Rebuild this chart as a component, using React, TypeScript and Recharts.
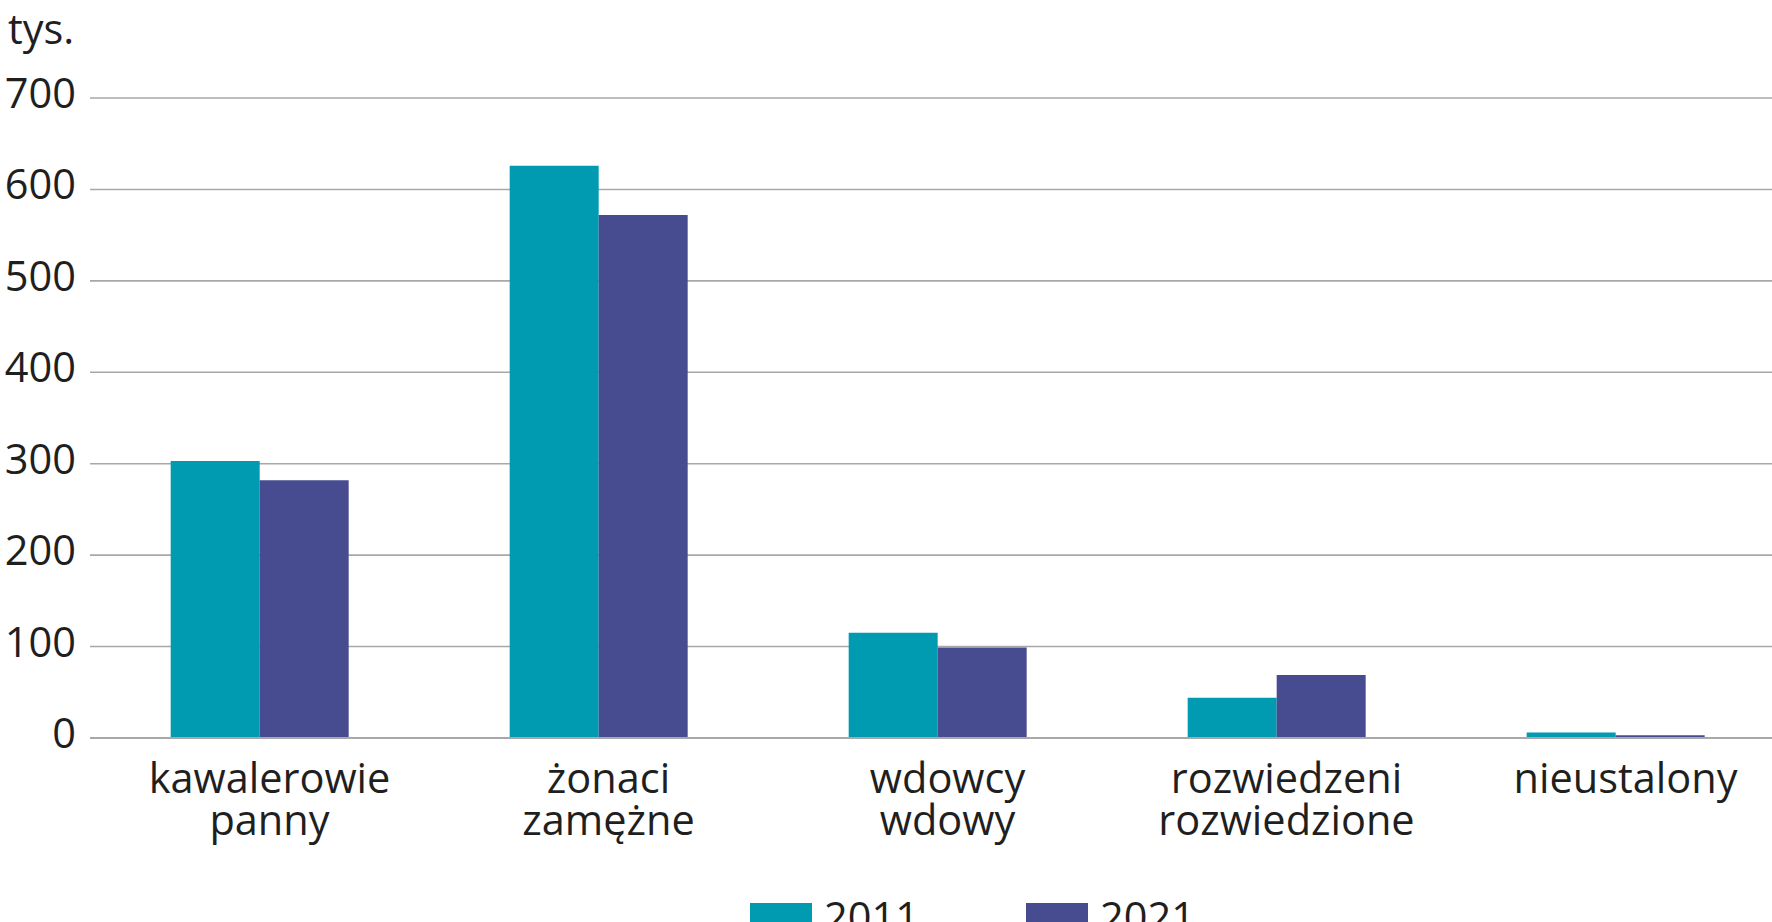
import React from "react";
import { Bar, BarChart, CartesianGrid, Legend, XAxis, YAxis } from "recharts";

const categories = [
  "kawalerowie\npanny",
  "żonaci\nzamężne",
  "wdowcy\nwdowy",
  "rozwiedzeni\nrozwiedzione",
  "nieustalony",
];
const values2011 = [303, 626, 115, 44, 6];
const values2021 = [282, 572, 99, 69, 3];
const yTicks = [0, 100, 200, 300, 400, 500, 600, 700];

const series = [
  { key: "y2011", label: "2011", color: "#009AB1" },
  { key: "y2021", label: "2021", color: "#474B8F" },
];

const data = categories.map((name, i) => ({
  name,
  y2011: values2011[i],
  y2021: values2021[i],
}));

const FONT = "'Open Sans', 'Noto Sans', sans-serif";
const INK = "#1f1f1f";
const GRID = "#a8a8a8";
const FS = 41.5;

function CategoryTick({ x, y, payload }: any) {
  const lines = String(payload.value).split("\n");
  const cx = x + 10;
  return (
    <text x={cx} y={y} textAnchor="middle" fill={INK} fontSize={FS} fontFamily={FONT}>
      {lines.map((line, i) => (
        <tspan key={i} x={cx} dy={i === 0 ? 55 : 42}>
          {line}
        </tspan>
      ))}
    </text>
  );
}

function ValueTick({ x, y, payload }: any) {
  return (
    <text x={x - 14} y={y} dy={10} textAnchor="end" fill={INK} fontSize={FS} fontFamily={FONT}>
      {payload.value}
    </text>
  );
}

function LegendContent() {
  return (
    <div style={{ position: "relative", width: 1772, height: 40, fontFamily: FONT }}>
      {series.map((s, i) => (
        <div
          key={s.key}
          style={{
            position: "absolute",
            left: 750 + i * 276,
            top: 0,
            display: "flex",
            alignItems: "flex-start",
          }}
        >
          <div style={{ width: 62, height: 22, background: s.color, marginTop: 7 }} />
          <span style={{ marginLeft: 12, fontSize: FS, lineHeight: "40px", color: INK }}>{s.label}</span>
        </div>
      ))}
    </div>
  );
}

export default function App() {
  return (
    <div style={{ position: "absolute", left: 0, top: 0, width: 1772, height: 922, background: "#fff", overflow: "hidden" }}>
      <div
        style={{
          position: "absolute",
          left: 8,
          top: 0,
          fontFamily: FONT,
          fontSize: FS,
          color: INK,
        }}
      >
        tys.
      </div>
      <BarChart
        width={1772}
        height={922}
        data={data}
        margin={{ top: 98, right: -13, bottom: 0, left: 0 }}
        barCategoryGap="23.8%"
        barGap={0}
      >
        <CartesianGrid vertical={false} stroke={GRID} strokeWidth={1.6} />
        <XAxis
          dataKey="name"
          height={184}
          tickLine={false}
          tickSize={0}
          tickMargin={0}
          axisLine={{ stroke: GRID, strokeWidth: 2 }}
          tick={<CategoryTick />}
          interval={0}
        />
        <YAxis
          width={90}
          domain={[0, 700]}
          ticks={yTicks}
          tickLine={false}
          tickSize={0}
          tickMargin={0}
          axisLine={false}
          tick={<ValueTick />}
        />
        <Legend
          layout="horizontal"
          verticalAlign="middle"
          align="center"
          content={<LegendContent />}
          wrapperStyle={{ top: 896, left: 0, width: 1772 }}
        />
        {series.map((s) => (
          <Bar key={s.key} dataKey={s.key} name={s.label} fill={s.color} isAnimationActive={false} />
        ))}
      </BarChart>
    </div>
  );
}
